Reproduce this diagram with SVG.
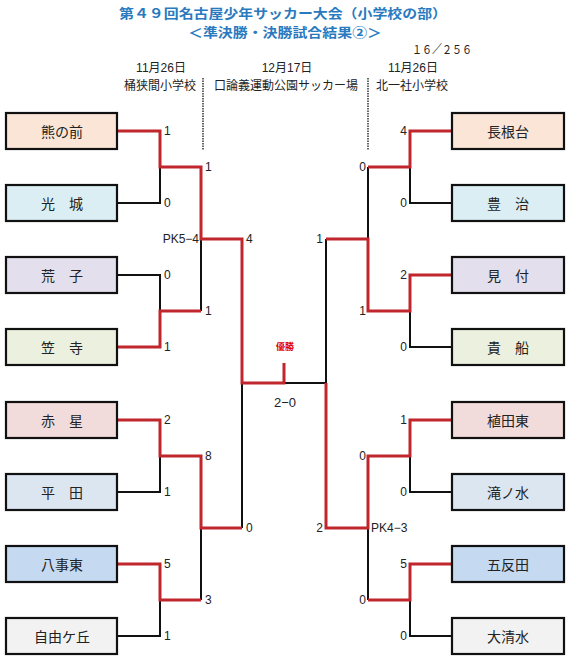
<svg xmlns="http://www.w3.org/2000/svg" width="579" height="662" viewBox="0 0 579 662">
<style>
.title{font-family:"Noto Sans CJK JP","Liberation Sans",sans-serif;font-weight:bold;fill:#2a7ac0;font-size:13px;text-anchor:middle}
.hdr{font-family:"Liberation Sans","Noto Sans CJK JP",sans-serif;font-size:12px;fill:#222;text-anchor:middle}
.box rect{stroke:#111;stroke-width:2.2}
.box text{font-family:"Noto Sans CJK JP","Liberation Sans",sans-serif;font-size:14px;fill:#222;text-anchor:middle;dominant-baseline:central}
.sc{font-family:"Liberation Sans","Noto Sans CJK JP",sans-serif;font-size:12px;fill:#222;dominant-baseline:central}
.e{text-anchor:end}
.m{text-anchor:middle}
.k{fill:none;stroke:#111;stroke-width:2}
.r{fill:none;stroke:#c0262c;stroke-width:3}
.dot{stroke:#333;stroke-width:1.5;stroke-dasharray:1.5 1}
</style>
<g id="header">
<text class="title" x="283" y="17.5" textLength="328" lengthAdjust="spacingAndGlyphs">第４９回名古屋少年サッカー大会（小学校の部）</text>
<text class="title" x="285" y="36.5" textLength="194" lengthAdjust="spacingAndGlyphs">＜準決勝・決勝試合結果②＞</text>
<text class="hdr" x="442" y="54" textLength="60" lengthAdjust="spacingAndGlyphs">１６／２５６</text>
<text class="hdr" x="161" y="72">11月26日</text>
<text class="hdr" x="287" y="72">12月17日</text>
<text class="hdr" x="413" y="72">11月26日</text>
<text class="hdr" x="160" y="90">桶狭間小学校</text>
<text class="hdr" x="286" y="90">口論義運動公園サッカー場</text>
<text class="hdr" x="412" y="90">北一社小学校</text>
<line class="dot" x1="203" y1="78" x2="203" y2="150"/>
<line class="dot" x1="368" y1="78" x2="368" y2="150"/>
</g>
<g id="connectors">
<path class="k" d="M117,203H160V167 M117,275H160V311 M201,311V239 M117,492H160V456 M117,636H160V600 M201,600V528 M242,528V383 M284,383H326"/>
<path class="r" d="M117,131H160V167H201V239H242V383H284V363 M117,347H160V311H201 M117,420H160V456H201V528H242 M117,564H160V600H201"/>
<path class="k" d="M452,203H410V167 M452,347H410V311 M368,167V239 M452,492H410V456 M452,636H410V600 M368,528V600 M326,239V383"/>
<path class="r" d="M452,131H410V167H368 M452,275H410V311H368V239H326 M452,420H410V456H368V528H326V383 M452,564H410V600H368"/>
</g>
<g id="scores">
<text class="sc" x="164" y="131">1</text>
<text class="sc" x="164" y="203">0</text>
<text class="sc" x="164" y="275">0</text>
<text class="sc" x="164" y="347">1</text>
<text class="sc" x="164" y="420">2</text>
<text class="sc" x="164" y="492">1</text>
<text class="sc" x="164" y="564">5</text>
<text class="sc" x="164" y="636">1</text>
<text class="sc" x="205" y="167">1</text>
<text class="sc" x="205" y="311">1</text>
<text class="sc" x="205" y="456">8</text>
<text class="sc" x="205" y="600">3</text>
<text class="sc e" x="199" y="239">PK5−4</text>
<text class="sc" x="246" y="239">4</text>
<text class="sc" x="246" y="528">0</text>
<text class="sc e" x="407" y="131">4</text>
<text class="sc e" x="407" y="203">0</text>
<text class="sc e" x="407" y="275">2</text>
<text class="sc e" x="407" y="347">0</text>
<text class="sc e" x="407" y="420">1</text>
<text class="sc e" x="407" y="492">0</text>
<text class="sc e" x="407" y="564">5</text>
<text class="sc e" x="407" y="636">0</text>
<text class="sc e" x="366" y="167">0</text>
<text class="sc e" x="366" y="311">1</text>
<text class="sc e" x="366" y="456">0</text>
<text class="sc e" x="366" y="600">0</text>
<text class="sc" x="371" y="528">PK4−3</text>
<text class="sc e" x="323" y="239">1</text>
<text class="sc e" x="323" y="528">2</text>
<text class="sc m" x="285" y="402" style="font-size:13px">2−0</text>
<text x="285" y="350" style="font-family:'Noto Sans CJK JP',sans-serif;font-size:9px;font-weight:bold;fill:#e00000;text-anchor:middle">優勝</text>
</g>
<g id="n1" class="box"><rect x="6" y="113" width="111" height="36" fill="#fbe5d6"/><text x="62" y="131">熊の前</text></g>
<g id="n2" class="box"><rect x="6" y="185" width="111" height="36" fill="#daeef3"/><text x="62" y="203">光　城</text></g>
<g id="n3" class="box"><rect x="6" y="257" width="111" height="36" fill="#e4dfec"/><text x="62" y="275">荒　子</text></g>
<g id="n4" class="box"><rect x="6" y="329" width="111" height="36" fill="#ebf1de"/><text x="62" y="347">笠　寺</text></g>
<g id="n5" class="box"><rect x="6" y="402" width="111" height="36" fill="#f2dcdb"/><text x="62" y="420">赤　星</text></g>
<g id="n6" class="box"><rect x="6" y="474" width="111" height="36" fill="#dce6f1"/><text x="62" y="492">平　田</text></g>
<g id="n7" class="box"><rect x="6" y="546" width="111" height="36" fill="#c5d9f1"/><text x="62" y="564">八事東</text></g>
<g id="n8" class="box"><rect x="6" y="618" width="111" height="36" fill="#f2f2f2"/><text x="62" y="636">自由ケ丘</text></g>
<g id="n9" class="box"><rect x="452" y="113" width="112" height="36" fill="#fbe5d6"/><text x="508" y="131">長根台</text></g>
<g id="n10" class="box"><rect x="452" y="185" width="112" height="36" fill="#daeef3"/><text x="508" y="203">豊　治</text></g>
<g id="n11" class="box"><rect x="452" y="257" width="112" height="36" fill="#e4dfec"/><text x="508" y="275">見　付</text></g>
<g id="n12" class="box"><rect x="452" y="329" width="112" height="36" fill="#ebf1de"/><text x="508" y="347">貴　船</text></g>
<g id="n13" class="box"><rect x="452" y="402" width="112" height="36" fill="#f2dcdb"/><text x="508" y="420">植田東</text></g>
<g id="n14" class="box"><rect x="452" y="474" width="112" height="36" fill="#dce6f1"/><text x="508" y="492">滝ノ水</text></g>
<g id="n15" class="box"><rect x="452" y="546" width="112" height="36" fill="#c5d9f1"/><text x="508" y="564">五反田</text></g>
<g id="n16" class="box"><rect x="452" y="618" width="112" height="36" fill="#f2f2f2"/><text x="508" y="636">大清水</text></g>
</svg>
